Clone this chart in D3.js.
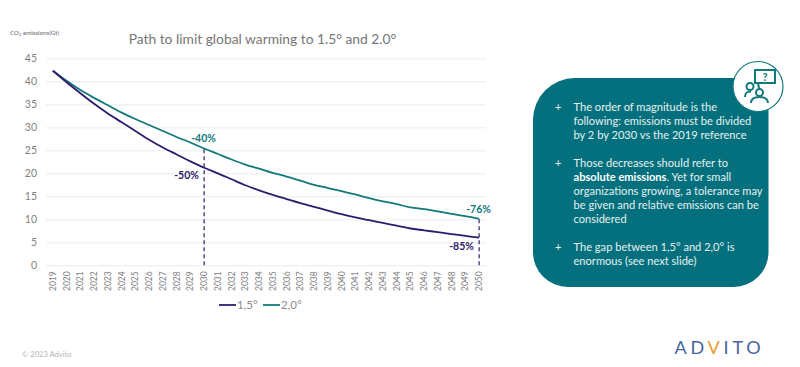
<!DOCTYPE html>
<html>

<head>
    <meta charset="utf-8">
    <title></title>
    <script src="https://d3js.org/d3.v7.min.js"></script>
    <style>
        html,
        body {
            margin: 0;
            background: white;
        }

        svg {
            display: block;
            font-family: Lato, "Open Sans", sans-serif;
        }
    </style>
</head>

<body>
    <div id="chart"></div>

    <script>
        // Chart data
        const years = d3.range(2019, 2051).map(String);
        const path15 = [42.3, 39.8, 37.4, 35.1, 33, 31.1, 29.2, 27.3, 25.6, 24.1, 22.6, 21.2, 20, 18.7, 17.4, 16.3,
            15.3, 14.4, 13.5, 12.7, 11.9, 11.1, 10.4, 9.8, 9.2, 8.6, 8, 7.6, 7.2, 6.8, 6.4, 6];
        const path20 = [42.3, 40.1, 38.1, 36.4, 34.8, 33.2, 31.8, 30.5, 29.2, 27.9, 26.7, 25.4, 24.2, 23, 21.9, 21,
            20.1, 19.3, 18.4, 17.5, 16.8, 16.1, 15.4, 14.6, 13.9, 13.3, 12.6, 12.2, 11.7, 11.2, 10.7, 10.1];
        const yTicks = [0, 5, 10, 15, 20, 25, 30, 35, 40, 45];
        const seriesNames = ["1,5°", "2,0°"];

        const navy = "#2f1b6e";
        const teal = "#12797b";
        const panelColor = "#04707d";
        const grey = "#7f7f7f";

        const svg = d3.select("#chart").append("svg")
            .attr("width", 800)
            .attr("height", 367);

        const xScale = d3.scaleBand().domain(years).range([46, 486]);
        const yScale = d3.scaleLinear().domain([0, 45]).range([265.3, 58.3]);
        const xPos = (year) => xScale(year) + xScale.bandwidth() / 2;

        // Title and y caption
        svg.append("text")
            .attr("x", 262.5).attr("y", 43.5)
            .attr("text-anchor", "middle")
            .attr("font-size", 13.8)
            .attr("fill", "#767676")
            .text("Path to limit global warming to 1.5° and 2.0°");

        const caption = svg.append("text")
            .attr("x", 10).attr("y", 35)
            .attr("font-size", 6.2)
            .attr("fill", "#666");
        caption.append("tspan").text("CO");
        caption.append("tspan").attr("font-size", 4).attr("dy", 1).text("2");
        caption.append("tspan").attr("dy", -1).text(" emissions(Gt)");

        // Axes
        const yAxis = svg.append("g")
            .attr("transform", "translate(46,0)")
            .call(d3.axisLeft(yScale).tickValues(yTicks).tickSize(-440).tickPadding(9));
        yAxis.select(".domain").remove();
        yAxis.selectAll("line").attr("stroke", "#ececec");
        yAxis.selectAll("text").attr("font-size", 10.5).attr("font-family", "Lato").attr("fill", grey);

        const xAxis = svg.append("g")
            .attr("transform", "translate(0,265.3)")
            .call(d3.axisBottom(xScale).tickSize(0));
        xAxis.select(".domain").remove();
        xAxis.selectAll("text")
            .attr("font-size", 8.5)
            .attr("font-family", "Lato")
            .attr("fill", grey)
            .attr("text-anchor", "end")
            .attr("transform", "rotate(-90)")
            .attr("x", -6)
            .attr("y", 0)
            .attr("dy", "0.34em");

        // Lines
        const line = d3.line()
            .x((d, i) => xPos(years[i]))
            .y((d) => yScale(d))
            .curve(d3.curveMonotoneX);

        // Dashed drop lines
        [["2030", path20[11]], ["2050", path20[31]]].forEach(([year, value]) => {
            svg.append("line")
                .attr("x1", xPos(year)).attr("x2", xPos(year))
                .attr("y1", yScale(0)).attr("y2", yScale(value))
                .attr("stroke", navy)
                .attr("stroke-width", 1.2)
                .attr("stroke-dasharray", "4 3");
        });

        svg.append("path").attr("d", line(path20))
            .attr("fill", "none").attr("stroke", teal).attr("stroke-width", 1.8);
        svg.append("path").attr("d", line(path15))
            .attr("fill", "none").attr("stroke", navy).attr("stroke-width", 1.8);

        // Percent labels
        const labels = [
            { text: "-40%", year: "2030", value: path20[11], dx: -13, dy: -6, color: teal },
            { text: "-50%", year: "2030", value: path15[11], dx: -30, dy: 11, color: navy },
            { text: "-76%", year: "2050", value: path20[31], dx: -13, dy: -5.5, color: teal },
            { text: "-85%", year: "2050", value: path15[31], dx: -30, dy: 12, color: navy },
        ];
        labels.forEach((d) => {
            svg.append("text")
                .attr("x", xPos(d.year) + d.dx)
                .attr("y", yScale(d.value) + d.dy)
                .attr("font-size", 10.5)
                .attr("font-weight", 700)
                .attr("fill", d.color)
                .text(d.text);
        });

        // Legend
        const legendX = [219, 263];
        seriesNames.forEach((name, i) => {
            svg.append("line")
                .attr("x1", legendX[i]).attr("x2", legendX[i] + 17)
                .attr("y1", 305).attr("y2", 305)
                .attr("stroke", i === 0 ? navy : teal)
                .attr("stroke-width", 1.8);
            svg.append("text")
                .attr("x", legendX[i] + 18).attr("y", 309)
                .attr("font-size", 11.5)
                .attr("fill", "#8c8c8c")
                .text(name);
        });

        // Footer
        svg.append("text")
            .attr("x", 22).attr("y", 357)
            .attr("font-size", 7.6)
            .attr("fill", "#b5b5b5")
            .text("© 2023 Advito");

        const logo = svg.append("text")
            .attr("x", 674.5).attr("y", 354)
            .attr("font-size", 18)
            .attr("letter-spacing", 3.8)
            .attr("fill", "#4a64a3");
        logo.append("tspan").text("AD");
        logo.append("tspan").attr("fill", "#ec9a2e").text("V");
        logo.append("tspan").text("ITO");

        // Side panel
        svg.append("path")
            .attr("fill", panelColor)
            .attr("d", "M575,78 H768.5 V252 A35,35 0 0 1 733.5,287 H568 A35,35 0 0 1 533,252 V120 A42,42 0 0 1 575,78 Z");

        const bullets = [
            { y: 111, lines: [["The order of magnitude is the"], ["following: emissions must be divided"], ["by 2 by 2030 vs the 2019 reference"]] },
            { y: 167, lines: [["Those decreases should refer to"], ["absolute emissions", ". Yet for small"], ["organizations growing, a tolerance may"], ["be given and relative emissions can be"], ["considered"]] },
            { y: 251, lines: [["The gap between 1,5° and 2,0° is"], ["enormous (see next slide)"]] },
        ];
        bullets.forEach((b) => {
            svg.append("text")
                .attr("x", 555).attr("y", b.y)
                .attr("font-size", 11)
                .attr("fill", "#e4f0f1")
                .text("+");
            b.lines.forEach((parts, i) => {
                const row = svg.append("text")
                    .attr("x", 573.5).attr("y", b.y + i * 14)
                    .attr("font-size", 11.1)
                    .attr("fill", "#e4f0f1");
                if (parts.length > 1) {
                    row.append("tspan").attr("font-weight", 700).attr("fill", "white").text(parts[0]);
                    row.append("tspan").text(parts[1]);
                } else {
                    row.text(parts[0]);
                }
            });
        });

        // Icon badge
        const icon = svg.append("g").attr("transform", "translate(758,86.5)");
        icon.append("circle").attr("r", 25).attr("fill", "white").attr("stroke", teal).attr("stroke-width", 1.2);
        const iconStroke = (sel) => sel.attr("fill", "none").attr("stroke", teal).attr("stroke-width", 2);
        iconStroke(icon.append("rect").attr("x", -3).attr("y", -16.5).attr("width", 20).attr("height", 13));
        iconStroke(icon.append("path").attr("d", "M0,-3.5 L1,2"));
        iconStroke(icon.append("circle").attr("cx", -8).attr("cy", 0).attr("r", 3.5));
        iconStroke(icon.append("circle").attr("cx", 1.5).attr("cy", 6).attr("r", 3.5));
        iconStroke(icon.append("path").attr("d", "M-13,10.5 C-13,6 -11,5 -7,5"));
        iconStroke(icon.append("path").attr("d", "M-7,16.5 C-7,12 -4,10.5 1.5,10.5 C7,10.5 10,12 10,16.5"));
        icon.append("text")
            .attr("x", 7).attr("y", -6)
            .attr("text-anchor", "middle")
            .attr("font-size", 11)
            .attr("font-weight", 700)
            .attr("fill", teal)
            .text("?");
    </script>
</body>

</html>
